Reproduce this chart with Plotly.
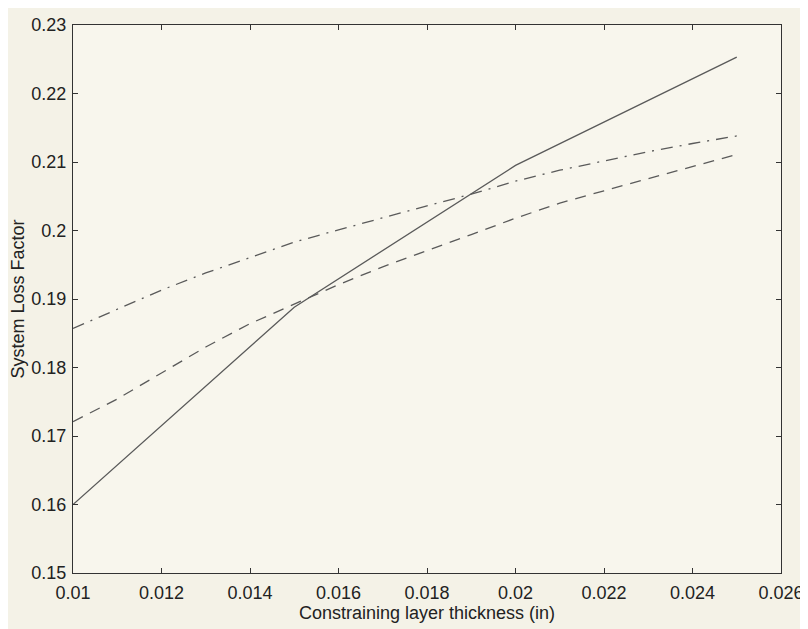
import plotly.graph_objects as go

# Data
x_solid = [0.010, 0.015, 0.020, 0.025]
y_solid = [0.1600, 0.1888, 0.2095, 0.2253]

x_curve = [0.010, 0.011, 0.012, 0.013, 0.014, 0.015, 0.016, 0.017,
           0.018, 0.019, 0.020, 0.021, 0.022, 0.023, 0.024, 0.025]
y_dashed = [0.1721, 0.1754, 0.1792, 0.1830, 0.1864, 0.1893, 0.1921, 0.1947,
            0.1970, 0.1994, 0.2018, 0.2040, 0.2058, 0.2076, 0.2094, 0.2111]
y_dashdot = [0.1857, 0.1885, 0.1913, 0.1938, 0.1961, 0.1983, 0.2001, 0.2019,
             0.2036, 0.2053, 0.2072, 0.2088, 0.2102, 0.2115, 0.2127, 0.2138]

x_ticks = [0.010, 0.012, 0.014, 0.016, 0.018, 0.020, 0.022, 0.024, 0.026]
x_tick_text = ["0.01", "0.012", "0.014", "0.016", "0.018", "0.02", "0.022", "0.024", "0.026"]
y_ticks = [0.15, 0.16, 0.17, 0.18, 0.19, 0.20, 0.21, 0.22, 0.23]
y_tick_text = ["0.15", "0.16", "0.17", "0.18", "0.19", "0.2", "0.21", "0.22", "0.23"]

line_color = "#5a5a5a"
font_family = "Liberation Sans, Arial, sans-serif"

fig = go.Figure()
fig.add_trace(go.Scatter(x=x_solid, y=y_solid, mode="lines",
                         line=dict(color=line_color, width=1.3)))
fig.add_trace(go.Scatter(x=x_curve, y=y_dashed, mode="lines",
                         line=dict(color=line_color, width=1.3, dash="11px,8px")))
fig.add_trace(go.Scatter(x=x_curve, y=y_dashdot, mode="lines",
                         line=dict(color=line_color, width=1.3, dash="12px,7px,2px,7px")))

axis_common = dict(
    showgrid=False, zeroline=False, showline=True, linecolor="#333333", linewidth=1,
    mirror="ticks", ticks="inside", ticklen=5, tickcolor="#333333",
    ticklabeloverflow="allow",
    tickfont=dict(family=font_family, size=18, color="#222222"),
)

fig.update_layout(
    width=808, height=629,
    margin=dict(l=65, r=35, t=7, b=64),
    paper_bgcolor="#f4f2e7", plot_bgcolor="#f8f6ed",
    showlegend=False,
    font=dict(family=font_family, size=18, color="#222222"),
    xaxis=dict(range=[0.010, 0.026], tickvals=x_ticks, ticktext=x_tick_text,
               ticklabelstandoff=3,
               title=dict(text="Constraining layer thickness (in)", standoff=1,
                          font=dict(size=18)), **axis_common),
    yaxis=dict(range=[0.15, 0.23], tickvals=y_ticks, ticktext=y_tick_text,
               ticklabelstandoff=2,
               title=dict(text="System Loss Factor", standoff=3,
                          font=dict(size=18)), **axis_common),
)

fig.write_html("out.html")
